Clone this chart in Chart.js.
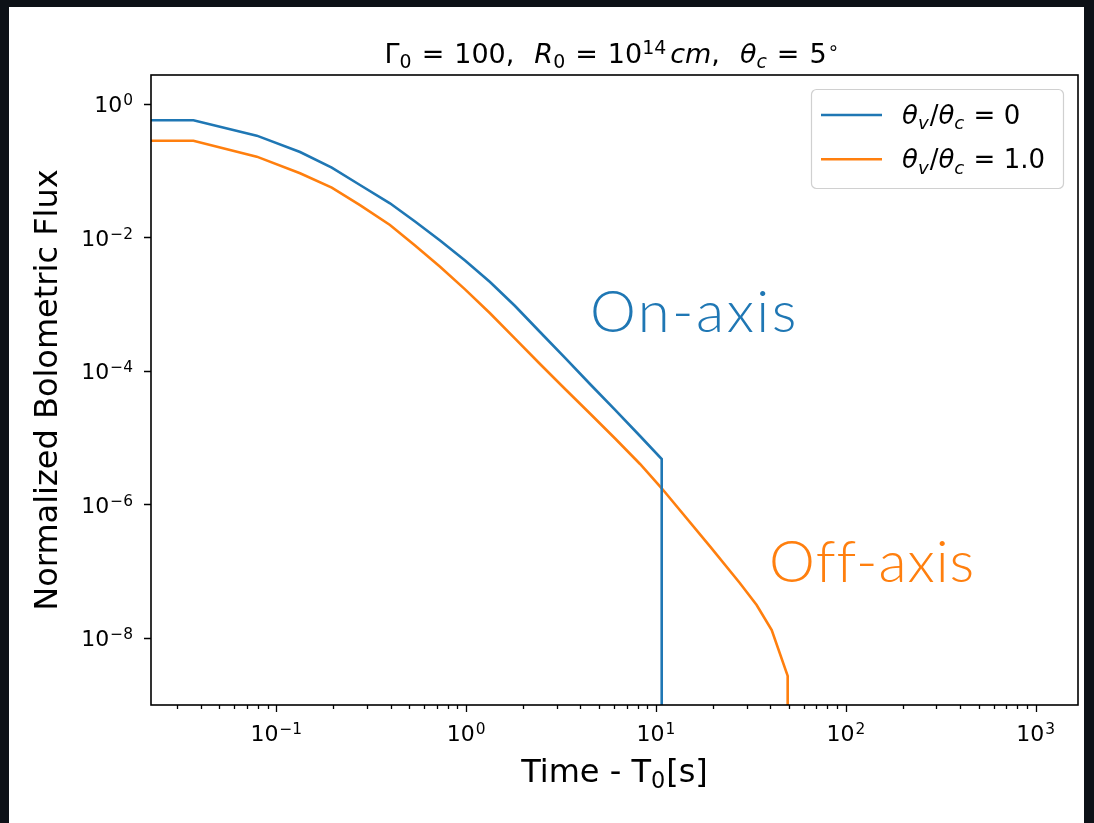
<!DOCTYPE html>
<html><head><meta charset="utf-8">
<script src="https://cdn.jsdelivr.net/npm/chart.js@4.4.0/dist/chart.umd.min.js"></script>
<style>html,body{margin:0;padding:0;background:#0d1117;}#wrap{width:1094px;height:823px;}</style>
</head><body><div id="wrap"><canvas id="c" width="1094" height="823"></canvas></div>
<script>
// ---- data ----
const timeOn  = [0.0219, 0.0366, 0.0789, 0.1334, 0.196, 0.276, 0.397, 0.538, 0.729, 0.987, 1.336, 1.81, 2.45, 3.32, 4.49, 6.09, 8.24, 10.72, 10.72];
const fluxOn  = [0.564, 0.564, 0.332, 0.189, 0.110, 0.0605, 0.0322, 0.01718, 0.00893, 0.00448, 0.00213, 9.31e-4, 3.80e-4, 1.55e-4, 6.32e-5, 2.58e-5, 1.05e-5, 4.75e-6, 1e-12];
const timeOff = [0.0219, 0.0366, 0.0789, 0.1334, 0.196, 0.276, 0.397, 0.538, 0.729, 0.987, 1.336, 1.81, 2.45, 3.32, 4.49, 6.09, 8.24, 10.72, 19.3, 27.7, 33.9, 40.7, 49.4, 49.4];
const fluxOff = [0.279, 0.279, 0.161, 0.0906, 0.0552, 0.0303, 0.01524, 0.00751, 0.00361, 0.00165, 7.24e-4, 3.03e-4, 1.26e-4, 5.32e-5, 2.28e-5, 9.64e-6, 4.0e-6, 1.73e-6, 2.31e-7, 6.53e-8, 3.09e-8, 1.30e-8, 2.67e-9, 1e-12];
const seriesLabels = ['θv/θc = 0', 'θv/θc = 1.0'];
const seriesColors = ['#1f77b4', '#ff7f0e'];
const xTickValues = [0.1, 1, 10, 100, 1000];
const xTickExp = ['−1', '0', '1', '2', '3'];
const yTickValues = [1e-8, 1e-6, 1e-4, 1e-2, 1];
const yTickExp = ['−8', '−6', '−4', '−2', '0'];
const xRange = [0.02188, 1671];
const yRange = [9.8e-10, 2.69];
const annotations = [
  {text: 'On-axis', x: 4.49, y: 3.8e-4, color: '#1f77b4'},
  {text: 'Off-axis', x: 39.4, y: 6.8e-8, color: '#ff7f0e'}
];
const annotationSpacing = ['2.5px', '1px'];

const FAM = '"DejaVu Sans", sans-serif';

function pts(xs, ys) { return xs.map((x, i) => ({x: x, y: ys[i]})); }

function fontFor(s, size) { return (s.it ? 'oblique ' : '') + ((s.sub || s.sup) ? size * 0.7 : size) + 'px ' + FAM; }
function richWidth(ctx, segs, size) {
  let w = 0;
  segs.forEach(s => { ctx.font = fontFor(s, size); s.w = ctx.measureText(s.t).width + (s.gap || 0); w += s.w; });
  return w;
}
function drawRich(ctx, segs, x, y, size, align) {
  const w = richWidth(ctx, segs, size);
  let cx = align === 'center' ? x - w / 2 : (align === 'right' ? x - w : x);
  ctx.textBaseline = 'alphabetic';
  ctx.textAlign = 'left';
  segs.forEach(s => {
    ctx.font = fontFor(s, size);
    const dy = s.sub ? size * 0.2 : (s.sup ? -size * 0.32 : 0);
    ctx.fillText(s.t, cx, y + dy);
    cx += s.w;
  });
  return w;
}

const decor = {
  id: 'decor',
  beforeDraw(chart) {
    const ctx = chart.ctx;
    ctx.save();
    ctx.fillStyle = '#0d1117';
    ctx.fillRect(0, 0, chart.width, chart.height);
    ctx.fillStyle = '#ffffff';
    ctx.fillRect(9, 7, 1075, 816);
    ctx.restore();
  },
  afterDatasetsDraw(chart) {
    const ctx = chart.ctx;
    const xs = chart.scales.x, ys = chart.scales.y;
    const a = chart.chartArea;
    ctx.save();
    // annotations
    ctx.textAlign = 'left';
    ctx.textBaseline = 'alphabetic';
    ctx.font = '300 58px Lato, "Open Sans", sans-serif';
    annotations.forEach((n, i) => {
      ctx.letterSpacing = annotationSpacing[i];
      ctx.fillStyle = n.color;
      ctx.fillText(n.text, xs.getPixelForValue(n.x), ys.getPixelForValue(n.y));
    });
    ctx.letterSpacing = '0px';
    // frame
    ctx.strokeStyle = '#000';
    ctx.lineWidth = 1.6;
    ctx.strokeRect(a.left, a.top, a.right - a.left, a.bottom - a.top);
    // x ticks (major + minor) and y ticks
    ctx.lineWidth = 1.3;
    ctx.beginPath();
    for (let n = -2; n <= 3; n++) {
      for (let k = 1; k <= 9; k++) {
        const v = k * Math.pow(10, n);
        if (v < xRange[0] || v > xRange[1]) continue;
        const px = Math.round(xs.getPixelForValue(v)) + 0.5;
        const len = k === 1 ? 7 : 4;
        ctx.moveTo(px, a.bottom);
        ctx.lineTo(px, a.bottom + len);
      }
    }
    yTickValues.forEach(v => {
      const py = Math.round(ys.getPixelForValue(v)) + 0.5;
      ctx.moveTo(a.left, py);
      ctx.lineTo(a.left - 7, py);
    });
    ctx.stroke();
    // tick labels
    ctx.fillStyle = '#000';
    xTickValues.forEach((v, i) => {
      drawRich(ctx, [{t: '10', gap: 1}, {t: xTickExp[i], sup: true}], xs.getPixelForValue(v), a.bottom + 36, 22, 'center');
    });
    yTickValues.forEach((v, i) => {
      drawRich(ctx, [{t: '10', gap: 1}, {t: yTickExp[i], sup: true}], a.left - 18, ys.getPixelForValue(v) + 8.5, 22, 'right');
    });
    // x axis title
    drawRich(ctx, [{t: 'Time - T'}, {t: '0', sub: true, gap: 1}, {t: '[s]'}], (a.left + a.right) / 2, 782, 32, 'center');
    // title (mathtext-like spacing)
    const EQ = 10, CM = 20;
    drawRich(ctx, [
      {t: 'Γ'}, {t: '0', sub: true, gap: EQ}, {t: '=', gap: EQ}, {t: '100,', gap: CM},
      {t: 'R', it: true}, {t: '0', sub: true, gap: EQ}, {t: '=', gap: EQ}, {t: '10'}, {t: '14', sup: true, gap: 4},
      {t: 'cm', it: true}, {t: ',', gap: CM},
      {t: 'θ', it: true}, {t: 'c', it: true, sub: true, gap: EQ}, {t: '=', gap: EQ}, {t: '5', gap: 1}, {t: '∘', sup: true}
    ], 612, 63, 27, 'center');
    // legend
    const lx = 811.5, ly = 89.5, lw = 252, lh = 99;
    ctx.beginPath();
    ctx.roundRect(lx, ly, lw, lh, 5);
    ctx.fillStyle = 'rgba(255,255,255,0.85)';
    ctx.fill();
    ctx.strokeStyle = '#d0d0d0';
    ctx.lineWidth = 1.2;
    ctx.stroke();
    chart.data.datasets.forEach((d, i) => {
      const yy = 115 + i * 44.3;
      ctx.strokeStyle = d.borderColor;
      ctx.lineWidth = 2.6;
      ctx.beginPath();
      ctx.moveTo(821, yy);
      ctx.lineTo(882, yy);
      ctx.stroke();
      ctx.fillStyle = '#000';
      const val = d.label.split('= ')[1];
      drawRich(ctx, [
        {t: 'θ', it: true}, {t: 'v', it: true, sub: true, gap: 1}, {t: '/'},
        {t: 'θ', it: true}, {t: 'c', it: true, sub: true, gap: 1}, {t: ' = ' + val}
      ], 902, yy + 9, 26, 'left');
    });
    ctx.restore();
  }
};

new Chart(document.getElementById('c'), {
  type: 'line',
  data: {
    datasets: [
      {label: seriesLabels[0], data: pts(timeOn, fluxOn), borderColor: seriesColors[0], backgroundColor: seriesColors[0], borderWidth: 2.6, pointRadius: 0, tension: 0, fill: false},
      {label: seriesLabels[1], data: pts(timeOff, fluxOff), borderColor: seriesColors[1], backgroundColor: seriesColors[1], borderWidth: 2.6, pointRadius: 0, tension: 0, fill: false}
    ]
  },
  options: {
    responsive: false,
    animation: false,
    devicePixelRatio: 1,
    layout: {padding: {left: 0, top: 75, right: 16, bottom: 0}},
    plugins: {legend: {display: false}, tooltip: {enabled: false}},
    scales: {
      x: {
        type: 'logarithmic', min: xRange[0], max: xRange[1],
        afterFit(s) { s.height = 118; },
        afterBuildTicks(s) { s.ticks = xTickValues.map(v => ({value: v})); },
        grid: {display: false, drawTicks: false},
        border: {display: false},
        ticks: {display: false},
        title: {display: false}
      },
      y: {
        type: 'logarithmic', min: yRange[0], max: yRange[1],
        afterFit(s) { s.width = 151; },
        afterBuildTicks(s) { s.ticks = yTickValues.map(v => ({value: v})); },
        grid: {display: false, drawTicks: false},
        border: {display: false},
        ticks: {display: false},
        title: {display: true, text: 'Normalized Bolometric Flux', color: '#000', font: {family: FAM, size: 32}, padding: {top: 29, bottom: 0}}
      }
    }
  },
  plugins: [decor]
});
</script>
</body></html>
